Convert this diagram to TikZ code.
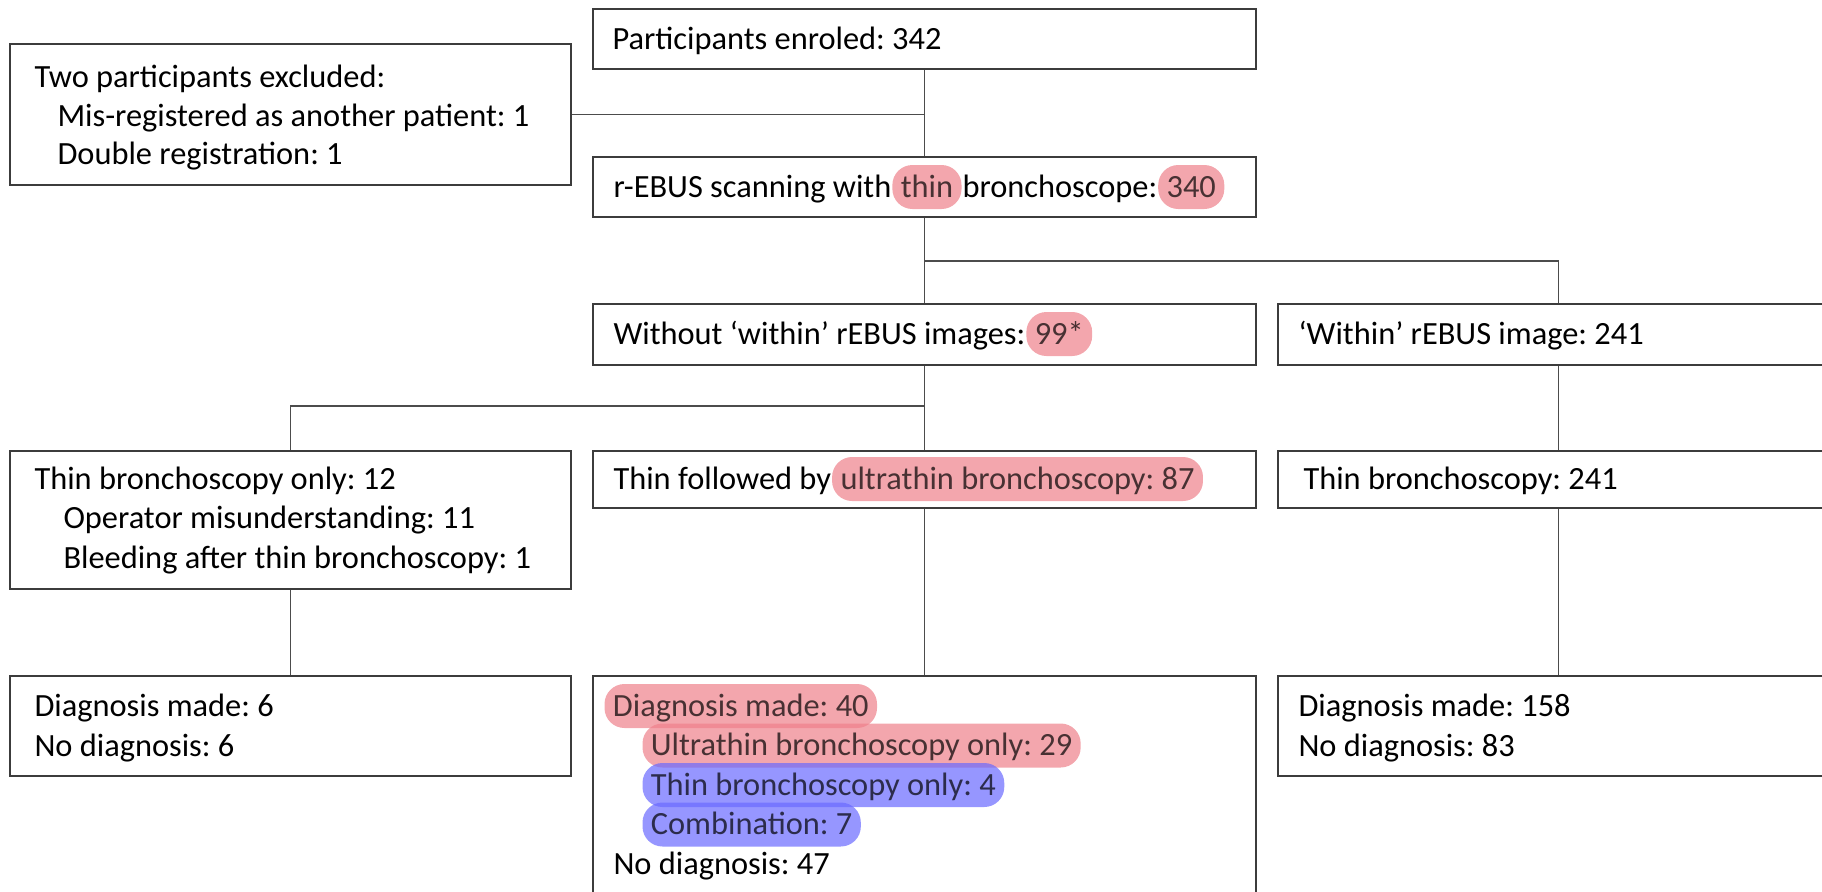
\documentclass[tikz,border=0pt]{standalone}
\usepackage{fontspec}
\setmainfont{Carlito}
\usetikzlibrary{positioning,calc}
\definecolor{hlpink}{RGB}{238,128,138}
\definecolor{hlblue}{RGB}{105,105,255}
\definecolor{boxline}{RGB}{60,60,60}
\frenchspacing
\tikzset{
    every picture/.style={line width=0.5pt},
    box/.style={draw=boxline,line width=0.75pt,inner sep=0pt},
    midbox/.style={box,minimum width=331.5pt},
    sidebox/.style={box,minimum width=280.5pt},
    txt/.style={anchor=base west,inner sep=0pt,text=black,font=\fontsize{16.2}{19.5}\selectfont},
    hl/.style={txt,inner xsep=4.2pt,text height=16pt,text depth=6pt,rounded corners=10pt,fill opacity=0.7},
    hlred/.style={hl,fill=hlpink},
    hlblu/.style={hl,fill=hlblue},
    link/.style={draw=black!70,line width=0.6pt}
}

\begin{document}
\begin{tikzpicture}[x=0.5pt,y=-0.5pt]
        \path[use as bounding box] (0,0) rectangle (1822,891);
        \clip (0,0) rectangle (1822,891);

        % Boxes
        \node[midbox,minimum height=30pt] (enrol) at (924.5,39) {};
        \node[sidebox,minimum height=70.5pt] (excl) at (290.5,114.5) {};
        \node[midbox,minimum height=30pt] (scan) at (924.5,187) {};
        \node[midbox,minimum height=30.5pt] (without) at (924.5,334.5) {};
        \node[sidebox,minimum height=30.5pt] (within) at (1558.5,334.5) {};
        \node[sidebox,minimum height=69pt] (thinonly) at (290.5,520) {};
        \node[midbox,minimum height=28.5pt] (ultra) at (924.5,479.5) {};
        \node[sidebox,minimum height=28.5pt] (thin) at (1558.5,479.5) {};
        \node[sidebox,minimum height=50pt] (diagA) at (290.5,726) {};
        \node[midbox,minimum height=114.5pt] (diagB) at (924.5,790.5) {};
        \node[sidebox,minimum height=50pt] (diagC) at (1558.5,726) {};

        % Connectors
        \coordinate (split1) at (924.5,261);
        \coordinate (split2) at (924.5,406);
        \draw[link] (enrol) -- (scan);
        \draw[link] (excl.east) -- (excl.east -| enrol.south);
        \draw[link] (scan) -- (without);
        \draw[link] (split1) -| (within.north);
        \draw[link] (without) -- (ultra);
        \draw[link] (split2) -| (thinonly.north);
        \draw[link] (thinonly) -- (diagA);
        \draw[link] (ultra) -- (diagB);
        \draw[link] (within) -- (thin);
        \draw[link] (thin) -- (diagC);

        % Texts, top row
        \node[txt] (enrolT) at (612,49) {Participants enroled: 342};
        \node[txt] (exclT) at (34,87) {Two participants excluded:};
        \foreach \y/\t in {126/{Mis-registered as another patient: 1}, 164/{Double registration: 1}} {
            \node[txt] at (57,\y) {\t};
        }
        \node[txt] (scanA) at (613,197) {r-EBUS scanning with};
        \node[hlred] (scanB) at (scanA.base east) {thin};
        \node[txt] (scanC) at (scanB.base east) {bronchoscope:};
        \node[hlred] (scanD) at (scanC.base east) {340};

        % Texts, middle rows
        \node[txt] (withoutA) at (613,344) {Without ‘within’ rEBUS images:};
        \node[hlred] (withoutB) at (withoutA.base east) {99*};
        \node[txt] (withinT) at (1298,344) {‘Within’ rEBUS image: 241};
        \node[txt] (thinonlyT) at (34,489) {Thin bronchoscopy only: 12};
        \foreach \y/\t in {528.5/{Operator misunderstanding: 11}, 568/{Bleeding after thin bronchoscopy: 1}} {
            \node[txt] at (63,\y) {\t};
        }
        \node[txt] (ultraA) at (613,489) {Thin followed by};
        \node[hlred] (ultraB) at (ultraA.base east) {ultrathin bronchoscopy: 87};
        \node[txt] (thinT) at (1303,489) {Thin bronchoscopy: 241};

        % Texts, bottom row
        \node[txt] (diagAa) at (34,716) {Diagnosis made: 6};
        \node[txt] (diagAb) at (34,756) {No diagnosis: 6};
        \node[hlred] (diagBa) at (604,716) {Diagnosis made: 40};
        \node[hlred] (diagBb) at (642,755.5) {Ultrathin bronchoscopy only: 29};
        \node[hlblu] (diagBc) at (642,795) {Thin bronchoscopy only: 4};
        \node[hlblu] (diagBd) at (642,834.5) {Combination: 7};
        \node[txt] (diagBe) at (613,874) {No diagnosis: 47};
        \node[txt] (diagCa) at (1298,716) {Diagnosis made: 158};
        \node[txt] (diagCb) at (1298,756) {No diagnosis: 83};
\end{tikzpicture}
\end{document}
